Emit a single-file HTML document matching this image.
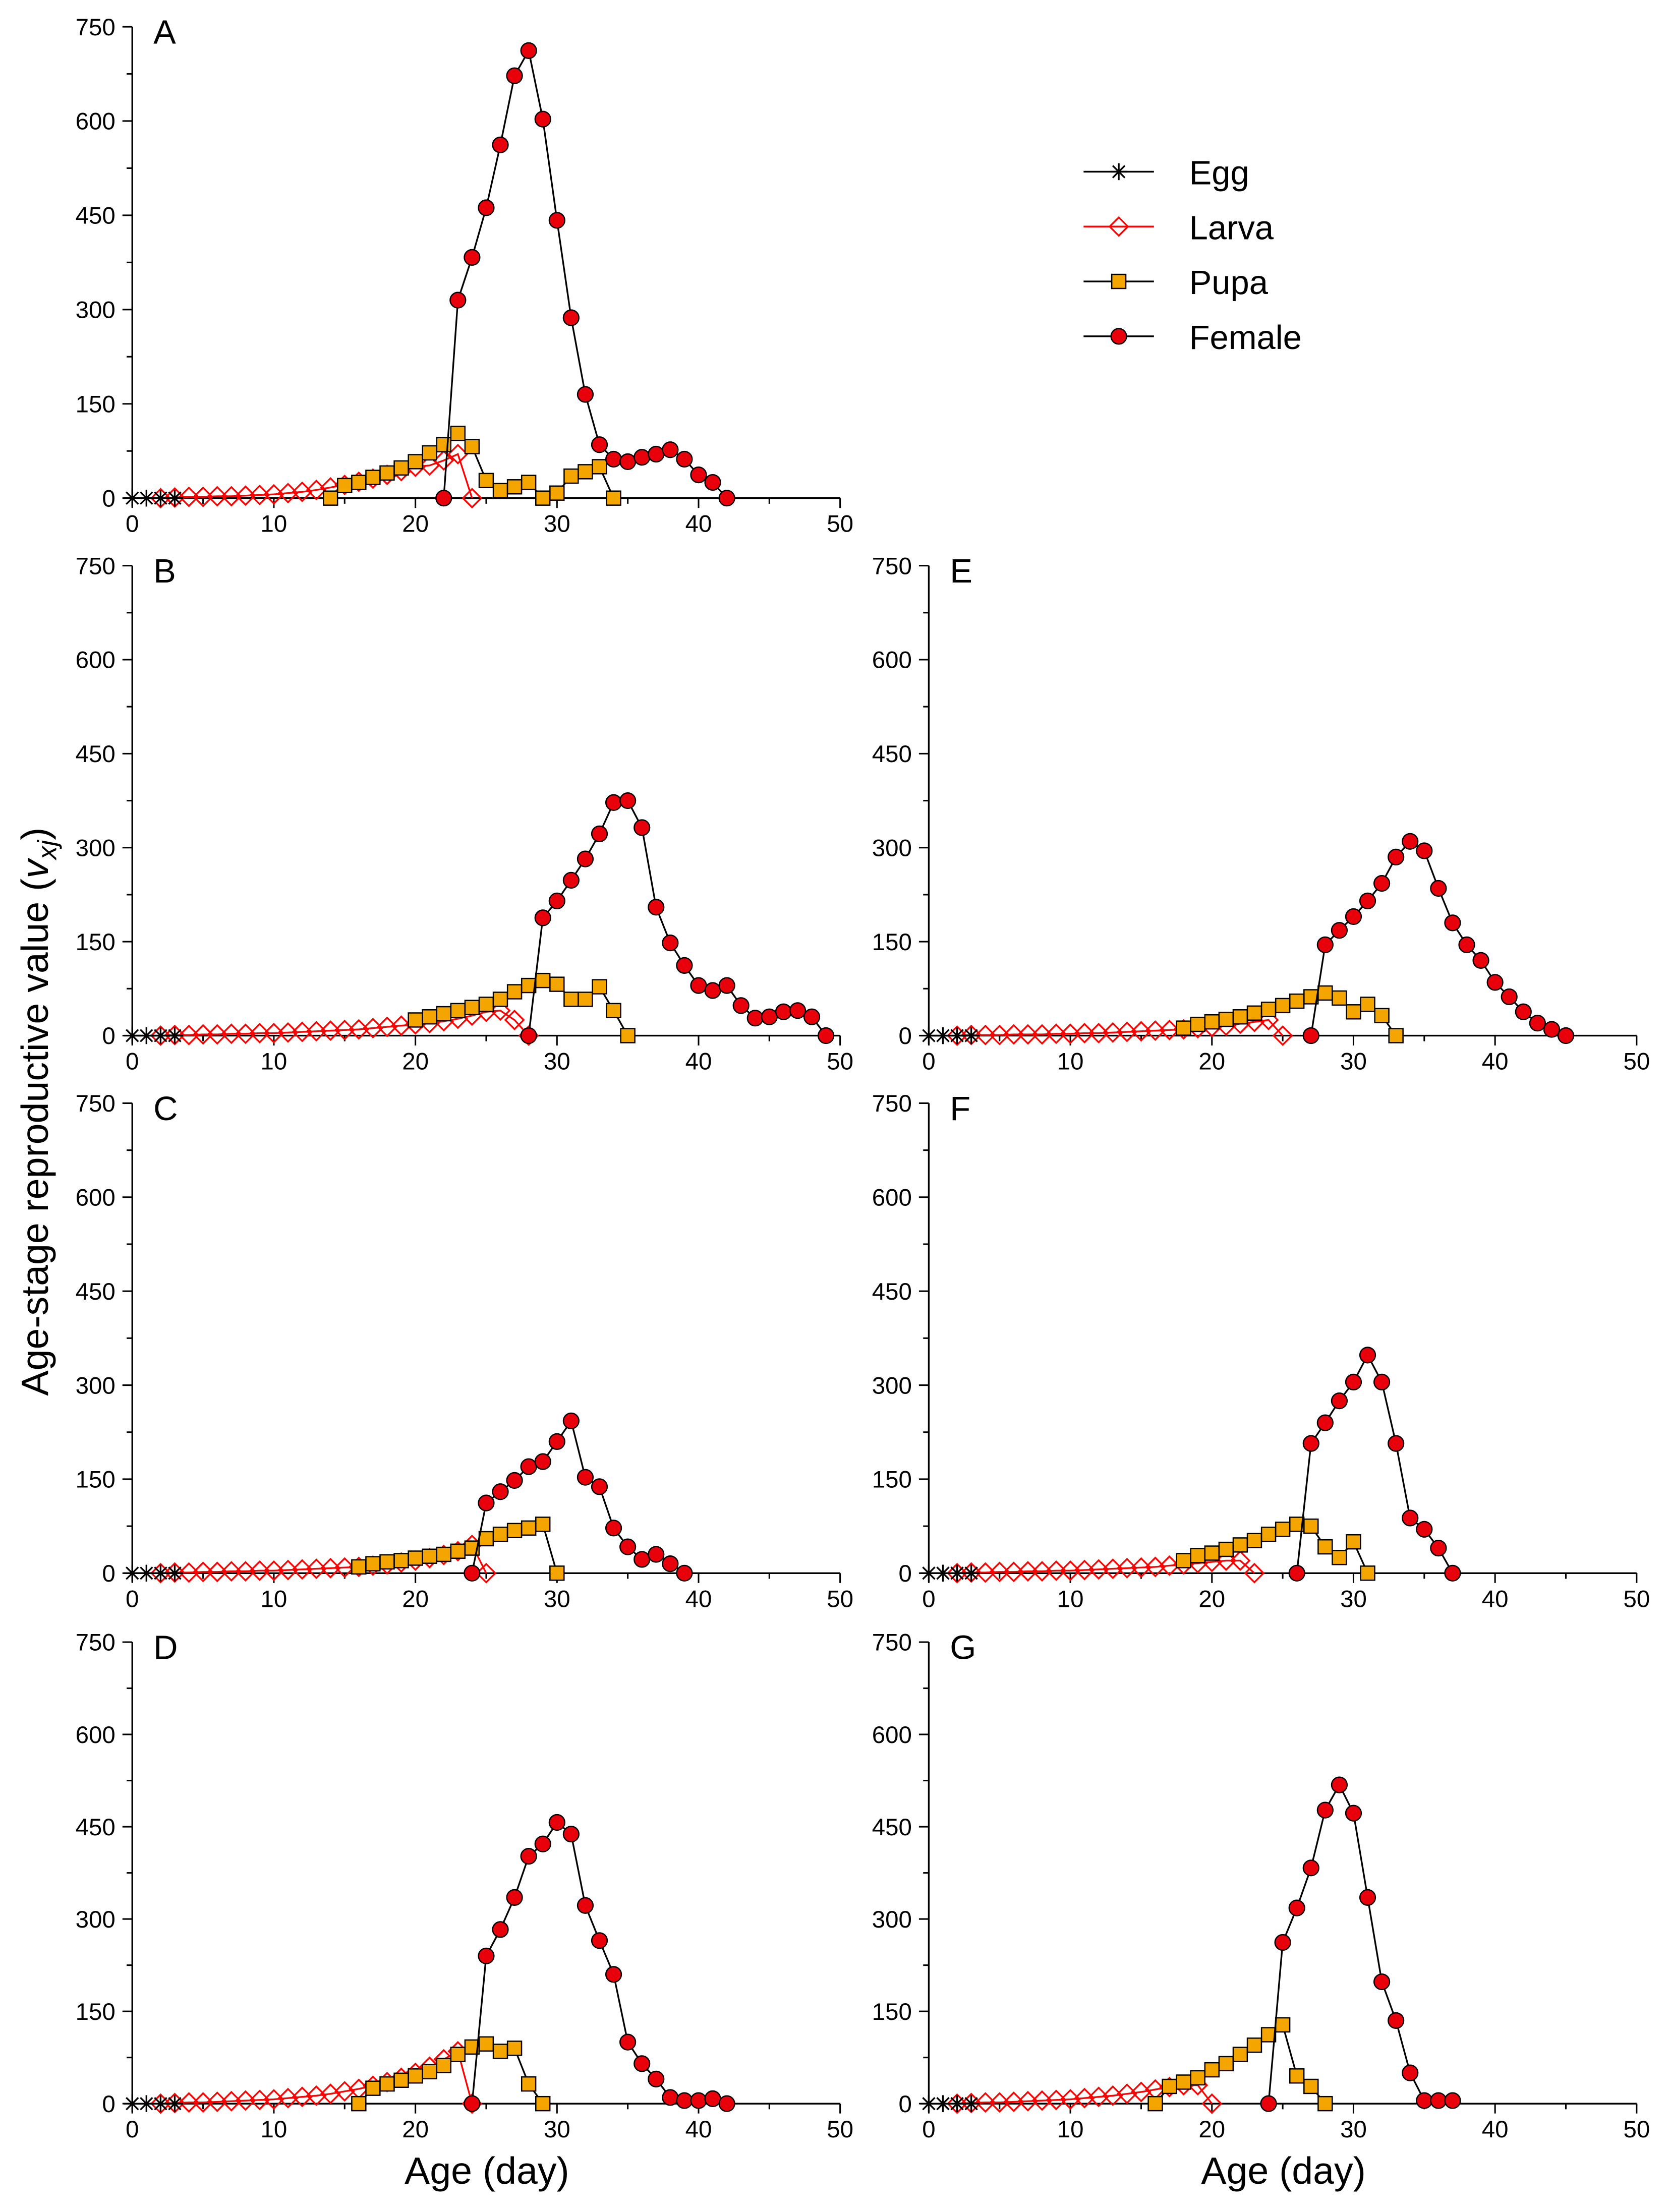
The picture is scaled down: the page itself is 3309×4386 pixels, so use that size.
<!DOCTYPE html>
<html><head><meta charset="utf-8"><style>
html,body{margin:0;padding:0;background:#fff}
svg{display:block}
text{font-family:"Liberation Sans",Arial,sans-serif}
</style></head><body>
<svg id="chart" width="3309" height="4386" viewBox="0 0 1186 1572" xmlns="http://www.w3.org/2000/svg">
<rect width="1186" height="1572" fill="#fff"/>
<text transform="translate(34,790) rotate(-90)" text-anchor="middle" font-size="27">Age-stage reproductive value (<tspan font-style="italic">v</tspan><tspan font-style="italic" font-size="19" dy="6">xj</tspan><tspan dy="-6">)</tspan></text>
<text x="346" y="1552" text-anchor="middle" font-size="27">Age (day)</text>
<text x="912" y="1552" text-anchor="middle" font-size="27">Age (day)</text>
<g id="legend"></g>
</svg>
<script>
const panelLabels=["A","B","C","D","E","F","G"];
const yTicks=[0,150,300,450,600,750];
const xTicks=[0,10,20,30,40,50];
const eggDays=[0,1,2,3];
const eggValues=[0,0,0,0];
const larvaStart=[2,2,2,2,2,2,2];
const larvaA=[0,1,2,2,3,3,4,5,6,8,10,13,17,21,26,31,37,43,50,52,60,70,0];
const larvaB=[0,1,1,2,2,3,3,4,4,5,6,7,8,9,10,12,14,16,18,20,23,27,32,38,40,25,0];
const larvaC=[0,1,1,2,2,3,3,4,4,5,6,7,8,9,10,12,14,17,20,24,29,35,45,0];
const larvaD=[0,1,2,2,3,4,5,6,7,9,11,13,16,20,24,29,35,42,50,60,72,85,0];
const larvaE=[0,1,1,1,2,2,2,3,3,4,4,5,6,7,8,9,10,12,14,16,19,22,25,0];
const larvaF=[0,1,1,2,2,3,3,4,4,5,6,7,8,9,10,12,14,16,18,20,20,0];
const larvaG=[0,1,2,2,3,4,5,6,7,9,11,13,16,19,23,27,30,30,0];
const pupaStart=[14,20,16,16,18,18,16];
const pupaA=[0,20,25,33,40,48,58,72,85,103,82,28,12,18,25,0,8,35,42,50,0];
const pupaB=[25,30,35,40,45,50,58,70,80,88,82,58,58,78,40,0];
const pupaC=[10,15,18,20,24,27,30,35,40,55,62,68,72,78,0];
const pupaD=[0,25,32,38,45,52,62,80,92,97,85,90,32,0];
const pupaE=[12,18,22,26,30,36,42,48,55,62,68,60,38,50,32,0];
const pupaF=[20,28,32,38,45,52,62,70,78,75,42,25,50,0];
const pupaG=[0,28,35,42,55,65,80,95,112,128,45,28,0];
const femaleStart=[22,28,24,24,27,26,24];
const femaleA=[0,315,383,462,562,672,712,603,442,287,165,85,62,58,65,70,77,62,37,25,0];
const femaleB=[0,188,215,248,282,322,372,375,332,205,148,112,80,72,80,48,28,30,38,40,30,0];
const femaleC=[0,112,130,148,170,178,210,243,153,138,72,42,22,30,15,0];
const femaleD=[0,240,283,335,402,422,457,438,322,265,210,100,65,40,10,5,5,8,0];
const femaleE=[0,145,168,190,215,243,285,310,295,235,180,145,120,85,62,38,20,10,0];
const femaleF=[0,207,240,275,305,348,305,207,88,70,40,0];
const femaleG=[0,262,318,383,477,518,472,335,198,135,50,5,5,5];
const larvaAll=[larvaA,larvaB,larvaC,larvaD,larvaE,larvaF,larvaG];
const pupaAll=[pupaA,pupaB,pupaC,pupaD,pupaE,pupaF,pupaG];
const femaleAll=[femaleA,femaleB,femaleC,femaleD,femaleE,femaleF,femaleG];

const NS="http://www.w3.org/2000/svg";
const svg=document.getElementById('chart');
function mk(tag,attrs,parent){const e=document.createElementNS(NS,tag);for(const k in attrs)e.setAttribute(k,attrs[k]);(parent||svg).appendChild(e);return e;}
const frames=[[94,354,335],[94,736,334],[94,1118,334],[94,1495,328],[660,736,334],[660,1118,334],[660,1495,328]];
const W=503;

function drawMarker(g,type,cx,cy,name){
  let e;
  if(type==='egg'){
    e=mk('g',{},g);
    const r=6;
    mk('line',{x1:cx-r,y1:cy,x2:cx+r,y2:cy,stroke:'#000','stroke-width':1.2},e);
    mk('line',{x1:cx,y1:cy-r,x2:cx,y2:cy+r,stroke:'#000','stroke-width':1.2},e);
    mk('line',{x1:cx-4.3,y1:cy-4.3,x2:cx+4.3,y2:cy+4.3,stroke:'#000','stroke-width':1.2},e);
    mk('line',{x1:cx-4.3,y1:cy+4.3,x2:cx+4.3,y2:cy-4.3,stroke:'#000','stroke-width':1.2},e);
  }else if(type==='larva'){
    e=mk('polygon',{points:`${cx},${cy-6.5} ${cx+6.5},${cy} ${cx},${cy+6.5} ${cx-6.5},${cy}`,fill:'none',stroke:'#f00','stroke-width':1.2},g);
  }else if(type==='pupa'){
    e=mk('rect',{x:cx-5,y:cy-5,width:10,height:10,fill:'#f5a500',stroke:'#000','stroke-width':0.9},g);
  }else{
    e=mk('circle',{cx:cx,cy:cy,r:5.5,fill:'#e8000b',stroke:'#000','stroke-width':0.9},g);
  }
  
  
}

function drawSeries(g,type,start,vals,X,Y,color){
  const pts=vals.map((v,i)=>X(start+i)+','+Y(v)).join(' ');
  const line=mk('polyline',{points:pts,fill:'none',stroke:color,'stroke-width':1.2},g);
  
  
  vals.forEach((v,i)=>drawMarker(g,type,X(start+i),Y(v),type+'-point'));
}

frames.forEach((f,p)=>{
  const [x0,y0,h]=f;
  const X=d=>x0+d/50*W;
  const Y=v=>y0-v/750*h;
  const g=mk('g',{});
  
  
  mk('line',{x1:x0,y1:Y(750),x2:x0,y2:y0,stroke:'#000','stroke-width':1.2},g);
  mk('line',{x1:x0,y1:y0,x2:X(50),y2:y0,stroke:'#000','stroke-width':1.2},g);
  for(let v=0;v<=750;v+=75){
    const major=v%150===0;
    mk('line',{x1:x0-(major?7:4),y1:Y(v),x2:x0,y2:Y(v),stroke:'#000','stroke-width':1.1},g);
  }
  yTicks.forEach(v=>{
    const t=mk('text',{x:x0-12,y:Y(v)+6,'text-anchor':'end','font-size':17},g);
    t.textContent=v;
    
    
  });
  for(let d=0;d<=50;d+=5){
    const major=d%10===0;
    mk('line',{x1:X(d),y1:y0,x2:X(d),y2:y0+(major?7:4),stroke:'#000','stroke-width':1.1},g);
  }
  xTicks.forEach(d=>{
    const t=mk('text',{x:X(d),y:y0+24,'text-anchor':'middle','font-size':17},g);
    t.textContent=d;
    
    
  });
  const lab=mk('text',{x:x0+15,y:Y(750)+12,'font-size':24},g);
  lab.textContent=panelLabels[p];
  
  
  drawSeries(g,'larva',larvaStart[p],larvaAll[p],X,Y,'#f00');
  drawSeries(g,'pupa',pupaStart[p],pupaAll[p],X,Y,'#000');
  drawSeries(g,'female',femaleStart[p],femaleAll[p],X,Y,'#000');
  drawSeries(g,'egg',eggDays[0],eggValues,X,Y,'#000');
});

const leg=document.getElementById('legend');
const legNames=["Egg","Larva","Pupa","Female"];
const legTypes=["egg","larva","pupa","female"];
const legColors=["#000","#f00","#000","#000"];
legNames.forEach((n,i)=>{
  const y=122+i*39;
  const e=mk('g',{},leg);
  
  
  mk('line',{x1:770,y1:y,x2:820,y2:y,stroke:legColors[i],'stroke-width':1.2},e);
  drawMarker(e,legTypes[i],795,y,'legend-marker');
  const t=mk('text',{x:845,y:y+9,'font-size':24},e);
  t.textContent=n;
});
</script>
</body></html>
